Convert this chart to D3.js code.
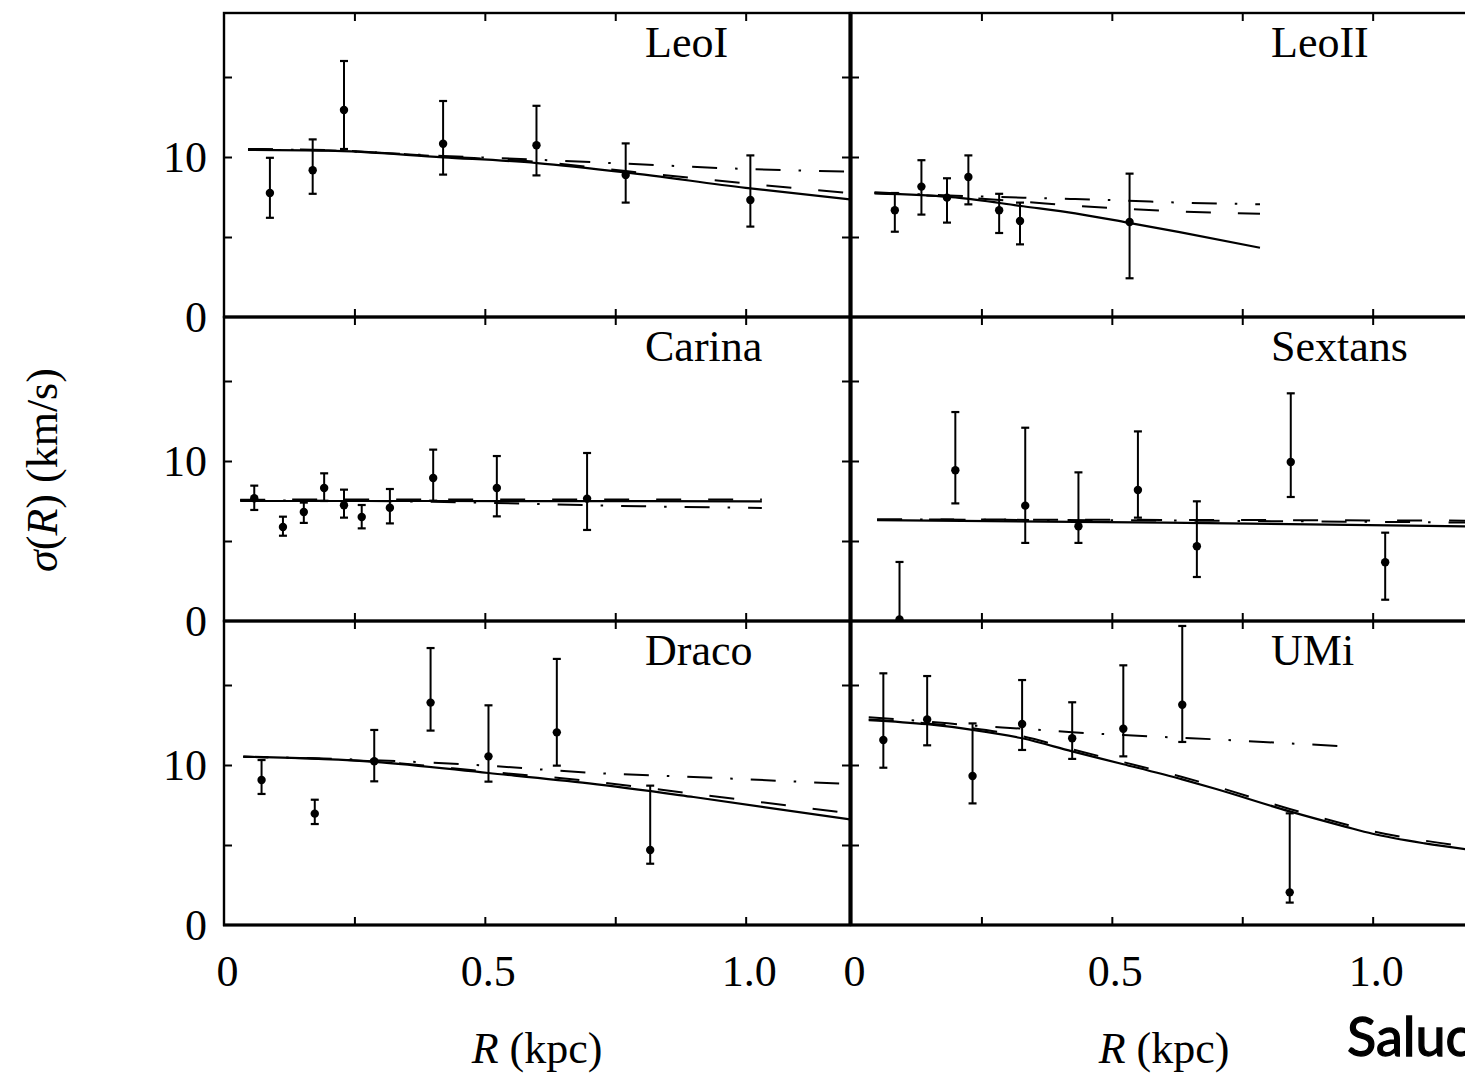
<!DOCTYPE html>
<html><head><meta charset="utf-8">
<script src="https://cdn.jsdelivr.net/npm/d3@7"></script>
<style>
body{margin:0;background:#fff}
svg{display:block}
text{font-family:"Liberation Serif","Times New Roman",serif;fill:#000}
</style>
</head><body>
<svg id="c" width="1465" height="1073"></svg>
<script>
// ---------------- data ----------------
const galaxies = ["LeoI", "LeoII", "Carina", "Sextans", "Draco", "UMi"];
const xTickValues = [0.25, 0.5, 0.75, 1.0];
const xTickLabels = ["0", "0.5", "1.0"];
const xLabelValues = [0, 0.5, 1.0];
const yTickValues = [5, 10, 15];
const yLabelValues = [0, 10];
const yTickLabels = ["0", "10"];

// LeoI
const leoI_R     = [0.088, 0.170, 0.230, 0.420, 0.599, 0.770, 1.009];
const leoI_sigma = [7.75, 9.17, 12.94, 10.83, 10.73, 8.88, 7.31];
const leoI_hi    = [9.95, 11.1, 16.0, 13.5, 13.2, 10.85, 10.1];
const leoI_lo    = [6.2, 7.7, 10.5, 8.9, 8.85, 7.15, 5.65];
const leoI_modelR   = [0.046, 0.2, 0.42, 0.6, 0.77, 1.0, 1.2];
const leoI_solid    = [10.45, 10.4, 9.98, 9.62, 9.04, 8.07, 7.35];
const leoI_dashed   = [10.5, 10.43, 10.03, 9.7, 9.12, 8.35, 7.75];
const leoI_dashdot  = [10.5, 10.4, 10.07, 9.83, 9.58, 9.25, 9.08];

// LeoII
const leoII_R     = [0.084, 0.135, 0.184, 0.225, 0.284, 0.324, 0.534];
const leoII_sigma = [6.67, 8.15, 7.46, 8.75, 6.67, 6.0, 5.94];
const leoII_hi    = [7.75, 9.8, 8.67, 10.1, 7.7, 7.15, 8.96];
const leoII_lo    = [5.33, 6.4, 5.9, 7.04, 5.25, 4.54, 2.42];
const leoII_modelR  = [0.045, 0.2, 0.33, 0.43, 0.53, 0.63, 0.784];
const leoII_solid   = [7.73, 7.48, 6.92, 6.48, 5.9, 5.3, 4.33];
const leoII_dashed  = [7.75, 7.5, 7.2, 6.95, 6.75, 6.6, 6.45];
const leoII_dashdot = [7.8, 7.58, 7.46, 7.37, 7.27, 7.15, 7.05];

// Carina
const carina_R     = [0.058, 0.113, 0.153, 0.192, 0.230, 0.264, 0.318, 0.401, 0.523, 0.696];
const carina_sigma = [7.67, 5.88, 6.81, 8.31, 7.23, 6.5, 7.08, 8.94, 8.31, 7.65];
const carina_hi    = [8.46, 6.52, 7.4, 9.23, 8.21, 7.25, 8.25, 10.71, 10.31, 10.5];
const carina_lo    = [6.94, 5.33, 6.13, 7.5, 6.46, 5.79, 6.1, 7.52, 6.54, 5.69];
const carina_modelR  = [0.031, 0.4, 0.8, 1.031];
const carina_solid   = [7.5, 7.5, 7.49, 7.48];
const carina_dashed  = [7.58, 7.6, 7.6, 7.6];
const carina_dashdot = [7.55, 7.45, 7.17, 7.07];

// Sextans
const sextans_R     = [0.093, 0.200, 0.334, 0.436, 0.550, 0.663, 0.843, 1.024];
const sextans_sigma = [0.1, 9.42, 7.21, 5.92, 8.19, 4.67, 9.94, 3.67];
const sextans_hi    = [3.69, 13.06, 12.08, 9.29, 11.85, 7.48, 14.23, 5.52];
const sextans_lo    = [0, 7.35, 4.88, 4.88, 6.46, 2.75, 7.75, 1.33];
const sextans_modelR  = [0.05, 0.6, 1.2];
const sextans_solid   = [6.31, 6.15, 5.9];
const sextans_dashed  = [6.35, 6.32, 6.27];
const sextans_dashdot = [6.35, 6.28, 6.15];

// Draco
const draco_R     = [0.072, 0.174, 0.288, 0.396, 0.507, 0.638, 0.817];
const draco_sigma = [9.06, 6.96, 10.23, 13.9, 10.54, 12.04, 4.69];
const draco_hi    = [10.31, 7.83, 12.19, 17.31, 13.73, 16.63, 8.71];
const draco_lo    = [8.19, 6.31, 8.98, 12.15, 8.96, 9.96, 3.83];
const draco_modelR  = [0.037, 0.288, 0.507, 0.7, 0.9, 1.2];
const draco_solid   = [10.52, 10.2, 9.5, 8.85, 8.0, 6.6];
const draco_dashed  = [10.52, 10.22, 9.58, 9.0, 8.2, 6.98];
const draco_dashdot = [10.52, 10.3, 9.95, 9.52, 9.25, 8.81];

// UMi
const umi_R     = [0.062, 0.146, 0.233, 0.328, 0.424, 0.522, 0.635, 0.841];
const umi_sigma = [11.56, 12.85, 9.31, 12.56, 11.67, 12.27, 13.77, 2.04];
const umi_hi    = [15.73, 15.56, 12.6, 15.31, 13.92, 16.23, 18.69, 6.98];
const umi_lo    = [9.83, 11.23, 7.6, 10.94, 10.38, 10.54, 11.44, 1.4];
const umi_modelR  = [0.034, 0.146, 0.233, 0.328, 0.424, 0.522, 0.635, 0.7, 0.841, 0.947, 1.0, 1.1, 1.2];
const umi_solid   = [12.81, 12.55, 12.2, 11.67, 10.85, 10.05, 9.1, 8.5, 7.1, 6.15, 5.7, 5.1, 4.65];
const umi_dashed  = [12.85, 12.6, 12.3, 11.8, 10.98, 10.18, 9.25, 8.65, 7.25, 6.3, 5.86, 5.27, 4.82];
const umi_dashdot = [12.98, 12.72, 12.47, 12.27, 12.05, 11.87, 11.7, 11.6, 11.35, 11.17, null, null, null];

// ---------------- layout ----------------
const svg = d3.select("#c");
const colX = [224, 851];
const rowBottom = [317, 621, 925];
const W = 626, H = 304;

const panelData = [
  {name: galaxies[0], col: 0, row: 0, R: leoI_R, s: leoI_sigma, hi: leoI_hi, lo: leoI_lo, mR: leoI_modelR, solid: leoI_solid, dashed: leoI_dashed, dashdot: leoI_dashdot},
  {name: galaxies[1], col: 1, row: 0, R: leoII_R, s: leoII_sigma, hi: leoII_hi, lo: leoII_lo, mR: leoII_modelR, solid: leoII_solid, dashed: leoII_dashed, dashdot: leoII_dashdot},
  {name: galaxies[2], col: 0, row: 1, R: carina_R, s: carina_sigma, hi: carina_hi, lo: carina_lo, mR: carina_modelR, solid: carina_solid, dashed: carina_dashed, dashdot: carina_dashdot},
  {name: galaxies[3], col: 1, row: 1, R: sextans_R, s: sextans_sigma, hi: sextans_hi, lo: sextans_lo, mR: sextans_modelR, solid: sextans_solid, dashed: sextans_dashed, dashdot: sextans_dashdot},
  {name: galaxies[4], col: 0, row: 2, R: draco_R, s: draco_sigma, hi: draco_hi, lo: draco_lo, mR: draco_modelR, solid: draco_solid, dashed: draco_dashed, dashdot: draco_dashdot},
  {name: galaxies[5], col: 1, row: 2, R: umi_R, s: umi_sigma, hi: umi_hi, lo: umi_lo, mR: umi_modelR, solid: umi_solid, dashed: umi_dashed, dashdot: umi_dashdot}
];

const fontSize = 44;
const defs = svg.append("defs");

panelData.forEach((p, i) => {
  const x0 = colX[p.col], yb = rowBottom[p.row];
  const x = d3.scaleLinear().domain([0, 1.2]).range([x0, x0 + W]);
  const y = d3.scaleLinear().domain([0, 19]).range([yb, yb - H]);
  const g = svg.append("g");

  defs.append("clipPath").attr("id", "clip" + i)
    .append("rect").attr("x", x0).attr("y", yb - H).attr("width", W).attr("height", H);

  const plot = g.append("g").attr("clip-path", `url(#clip${i})`);

  // model lines
  const styles = [
    {key: "solid", dash: null, w: 2.2},
    {key: "dashed", dash: "25,27", w: 2.0},
    {key: "dashdot", dash: "25,18,2.5,18", w: 2.0}
  ];
  styles.forEach(st => {
    const vals = p[st.key];
    const pts = p.mR.map((r, k) => [r, vals[k]]);
    const line = d3.line()
      .defined(d => d[1] !== null)
      .x(d => x(d[0])).y(d => y(d[1]))
      .curve(d3.curveMonotoneX);
    plot.append("path").attr("d", line(pts))
      .attr("fill", "none").attr("stroke", "#000")
      .attr("stroke-width", st.w)
      .attr("stroke-dasharray", st.dash);
  });

  // error bars
  const cap = 4;
  p.R.forEach((r, k) => {
    const cx = x(r);
    plot.append("line").attr("x1", cx).attr("x2", cx)
      .attr("y1", y(p.hi[k])).attr("y2", y(p.lo[k]))
      .attr("stroke", "#000").attr("stroke-width", 2);
    [p.hi[k], p.lo[k]].forEach(v => {
      plot.append("line").attr("x1", cx - cap).attr("x2", cx + cap)
        .attr("y1", y(v)).attr("y2", y(v))
        .attr("stroke", "#000").attr("stroke-width", 2.2);
    });
    plot.append("circle").attr("cx", cx).attr("cy", y(p.s[k])).attr("r", 4.2).attr("fill", "#000");
  });

  // inward ticks on all four sides
  const tk = 8;
  const axB = g.append("g").attr("transform", `translate(0,${yb})`)
    .call(d3.axisBottom(x).tickValues(xTickValues).tickSize(-tk).tickFormat(""));
  const axT = g.append("g").attr("transform", `translate(0,${yb - H})`)
    .call(d3.axisTop(x).tickValues(xTickValues).tickSize(-tk).tickFormat(""));
  const axL = g.append("g").attr("transform", `translate(${x0},0)`)
    .call(d3.axisLeft(y).tickValues(yTickValues).tickSize(-tk).tickFormat(""));
  const axR = g.append("g").attr("transform", `translate(${x0 + W},0)`)
    .call(d3.axisRight(y).tickValues(yTickValues).tickSize(-tk).tickFormat(""));
  [axB, axT, axL, axR].forEach(a => {
    a.select(".domain").remove();
    a.selectAll(".tick line").attr("stroke", "#000").attr("stroke-width", 2);
  });

  // frame
  g.append("rect").attr("x", x0).attr("y", yb - H).attr("width", W).attr("height", H)
    .attr("fill", "none").attr("stroke", "#000").attr("stroke-width", 2.4);

  // panel name
  g.append("text").attr("x", x0 + 421 - (p.col ? 1 : 0)).attr("y", yb - H + 44)
    .attr("font-size", fontSize).text(p.name);

  // y labels on left column
  if (p.col === 0) {
    const axLab = g.append("g").attr("transform", `translate(${x0},0)`)
      .call(d3.axisLeft(y).tickValues(yLabelValues).tickSize(0).tickPadding(17)
        .tickFormat((d, j) => yTickLabels[j]));
    axLab.select(".domain").remove();
    axLab.selectAll("text").attr("font-size", fontSize)
      .attr("font-family", '"Liberation Serif","Times New Roman",serif');
  }
  // x labels on bottom row
  if (p.row === 2) {
    const axLab = g.append("g").attr("transform", `translate(3,${yb})`)
      .call(d3.axisBottom(x).tickValues(xLabelValues).tickSize(0).tickPadding(30)
        .tickFormat((d, j) => xTickLabels[j]));
    axLab.select(".domain").remove();
    axLab.selectAll("text").attr("font-size", fontSize)
      .attr("font-family", '"Liberation Serif","Times New Roman",serif');
    // x-axis title
    const t = g.append("text").attr("x", x0 + 313).attr("y", 1063)
      .attr("text-anchor", "middle").attr("font-size", fontSize);
    t.append("tspan").attr("font-style", "italic").text("R");
    t.append("tspan").text(" (kpc)");
  }
});

// thicker shared separators
svg.append("line").attr("x1", 850.5).attr("x2", 850.5).attr("y1", 13).attr("y2", 926)
  .attr("stroke", "#000").attr("stroke-width", 4);
[317, 621].forEach(yy => {
  svg.append("line").attr("x1", 223).attr("x2", 1465).attr("y1", yy).attr("y2", yy)
    .attr("stroke", "#000").attr("stroke-width", 3.2);
});
svg.append("line").attr("x1", 223).attr("x2", 1465).attr("y1", 925).attr("y2", 925)
  .attr("stroke", "#000").attr("stroke-width", 3);

// y-axis title
const yt = svg.append("text").attr("transform", "translate(57,470) rotate(-90)")
  .attr("text-anchor", "middle").attr("font-size", fontSize);
yt.append("tspan").attr("font-style", "italic").text("σ");
yt.append("tspan").text("(");
yt.append("tspan").attr("font-style", "italic").text("R");
yt.append("tspan").text(") (km/s)");

// stray label at lower right (cropped in the original)
svg.append("text").attr("x", 1347).attr("y", 1056)
  .style("font-family", "Lato, 'Open Sans', sans-serif").style("font-weight", 400)
  .attr("stroke", "#000").attr("stroke-width", 1.3)
  .attr("font-size", 54).text("Saluc");
</script>
</body></html>
